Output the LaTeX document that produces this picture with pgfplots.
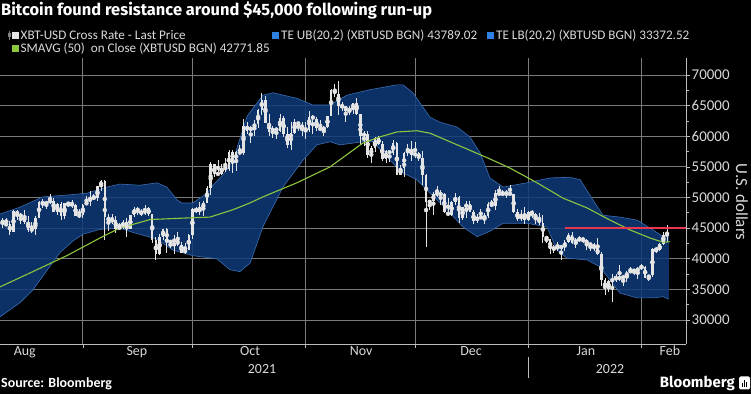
\documentclass[border=0pt]{standalone}
\usepackage{fontspec}
\setmainfont{Carlito}
\newfontfamily\titlefont{Fira Sans}
\usepackage{pgfplots}
\usepackage{pgfplotstable}
\pgfplotsset{compat=1.18}

\definecolor{bandfill}{HTML}{0F3A78}
\definecolor{bandedge}{HTML}{3A6DB3}
\definecolor{smagreen}{HTML}{8CC63F}
\definecolor{redline}{HTML}{E8374E}
\definecolor{candle}{HTML}{E4E4E4}
\definecolor{gridc}{HTML}{7A7A7A}
\definecolor{axisc}{HTML}{BDBDBD}
\definecolor{txt}{HTML}{DADADA}
\definecolor{legblue}{HTML}{2F80E0}

% daily candles, thousands of USD; d = days since 1 Aug 2021
\pgfplotstableread{
d o h l c
8 43.8 46.5 42.9 46.4
9 46.3 46.7 45.0 45.6
10 45.6 46.7 45.5 45.6
11 45.6 46.2 43.8 44.4
12 44.4 47.9 44.3 47.8
13 47.8 48.0 46.3 47.1
14 47.1 47.4 45.6 47.0
15 47.0 48.0 45.6 46.0
16 46.0 47.0 44.4 44.7
17 44.7 46.0 44.2 44.8
18 44.8 47.0 43.9 46.7
19 46.7 49.4 46.6 49.3
20 49.3 49.7 48.3 48.9
21 48.9 49.5 48.1 49.3
22 49.3 50.5 49.0 49.5
23 49.5 49.9 47.6 47.7
24 47.7 49.1 47.2 48.9
25 48.9 49.3 46.4 47.0
26 47.0 49.1 46.5 49.1
27 49.1 49.3 48.4 48.9
28 48.9 49.6 48.3 48.8
29 48.8 48.9 46.9 46.9
30 46.9 48.2 46.7 47.2
31 47.2 49.0 46.6 48.8
32 48.8 50.3 48.7 49.3
33 49.3 51.0 48.6 50.0
34 50.0 50.5 49.6 49.9
35 49.9 51.9 49.5 51.8
36 51.8 52.9 51.1 52.7
37 52.7 52.9 43.0 46.8
38 46.8 47.3 44.5 46.1
39 46.1 47.3 45.6 46.4
40 46.4 47.0 44.2 44.9
41 44.9 45.9 44.8 45.2
42 45.2 46.4 44.8 46.0
43 46.0 46.6 43.6 44.9
44 44.9 47.2 44.8 47.1
45 47.1 48.4 46.8 48.2
46 48.2 48.5 47.1 47.8
47 47.8 48.1 46.9 47.3
48 47.3 48.8 47.1 48.3
49 48.3 48.4 47.0 47.3
50 47.3 47.3 42.6 43.0
51 43.0 43.6 39.8 40.7
52 40.7 44.0 40.6 43.6
53 43.6 44.9 43.1 44.9
54 44.9 45.0 40.9 42.8
55 42.8 42.9 41.7 42.7
56 42.7 43.9 40.8 43.2
57 43.2 44.4 42.1 42.2
58 42.2 42.8 40.9 41.0
59 41.0 42.6 40.8 41.5
60 41.5 44.1 41.4 43.8
61 43.8 48.3 43.3 48.1
62 48.1 48.4 47.5 47.7
63 47.7 49.2 47.1 48.2
64 48.2 49.5 46.9 49.1
65 49.1 51.9 49.1 51.5
66 51.5 55.8 50.4 55.4
67 55.4 55.4 53.4 53.8
68 53.8 56.1 53.6 53.9
69 53.9 55.4 53.7 54.9
70 54.9 56.5 54.1 54.7
71 54.7 57.8 54.4 57.5
72 57.5 57.7 54.0 56.0
73 56.0 57.6 54.3 57.4
74 57.4 58.5 56.9 57.3
75 57.3 62.8 56.9 61.7
76 61.7 62.3 60.4 60.9
77 60.9 61.7 58.9 61.5
78 61.5 62.6 60.0 62.0
79 62.0 64.4 61.4 64.3
80 64.3 67.0 63.5 66.0
81 66.0 66.6 62.1 62.2
82 62.2 63.7 60.0 60.7
83 60.7 61.7 59.7 61.3
84 61.3 61.5 59.6 60.9
85 60.9 63.7 60.7 63.0
86 63.0 63.3 59.9 60.4
87 60.4 61.5 58.1 58.5
88 58.5 62.4 57.8 60.6
89 60.6 62.9 60.3 62.3
90 62.3 62.3 60.8 61.9
91 61.9 62.4 60.0 61.3
92 61.3 62.4 59.5 61.0
93 61.0 64.2 60.7 63.2
94 63.2 63.5 60.4 62.9
95 62.9 63.1 60.8 61.4
96 61.4 62.6 60.8 61.0
97 61.0 61.6 60.1 61.5
98 61.5 63.3 61.4 63.3
99 63.3 67.8 63.3 67.6
100 67.6 68.5 66.4 66.9
101 66.9 69.0 63.4 64.9
102 64.9 65.6 64.2 64.9
103 64.9 65.0 62.4 64.2
104 64.2 64.9 63.4 64.4
105 64.4 65.5 63.7 65.5
106 65.5 66.3 63.4 63.6
107 63.6 63.6 58.6 60.1
108 60.1 60.8 58.4 60.4
109 60.4 60.9 56.5 56.9
110 56.9 58.4 55.6 58.1
111 58.1 59.8 57.5 59.7
112 59.7 60.0 58.5 58.7
113 58.7 59.3 56.0 56.3
114 56.3 57.8 55.6 57.6
115 57.6 57.6 55.8 57.2
116 57.2 59.4 57.0 58.9
117 58.9 59.1 53.6 53.6
118 53.6 55.3 53.6 54.8
119 54.8 57.4 53.3 57.3
120 57.3 58.8 56.7 57.8
121 57.8 59.2 56.0 56.9
122 56.9 59.0 56.5 57.2
123 57.2 57.4 55.9 56.5
124 56.5 57.6 52.0 53.6
125 53.6 53.9 42.0 49.2
126 49.2 49.6 47.9 49.4
127 49.4 50.9 47.1 50.6
128 50.6 51.9 50.1 50.6
129 50.6 51.2 48.7 50.5
130 50.5 50.8 47.4 47.6
131 47.6 50.0 47.0 47.1
132 47.1 49.5 46.9 49.3
133 49.3 50.7 48.7 50.1
134 50.1 50.2 45.9 46.7
135 46.7 48.5 46.3 48.4
136 48.4 49.4 46.6 48.9
137 48.9 49.4 47.6 47.6
138 47.6 47.9 45.6 46.2
139 46.2 47.3 45.8 46.8
140 46.8 48.2 46.5 46.7
141 46.7 47.5 45.6 46.9
142 46.9 49.3 46.6 49.0
143 49.0 49.6 48.5 48.6
144 48.6 51.3 48.0 50.8
145 50.8 51.8 50.4 50.4
146 50.4 51.2 50.2 50.8
147 50.8 51.3 49.9 50.6
148 50.6 52.0 50.5 50.6
149 50.6 50.6 47.4 47.6
150 47.6 48.1 46.1 46.5
151 46.5 47.9 46.1 47.1
152 47.1 48.5 45.7 46.3
153 46.3 47.8 46.2 47.7
154 47.7 47.9 46.7 47.3
155 47.3 47.5 45.7 46.5
156 46.5 47.5 45.5 45.9
157 45.9 47.1 42.6 43.6
158 43.6 43.7 42.5 43.2
159 43.2 43.2 40.7 41.6
160 41.6 42.3 41.0 41.8
161 41.8 42.8 41.3 41.9
162 41.9 42.2 39.8 41.9
163 41.9 43.0 41.3 42.7
164 42.7 44.2 42.5 43.9
165 43.9 44.3 42.4 42.6
166 42.6 43.4 41.8 43.1
167 43.1 43.7 42.7 43.2
168 43.2 43.5 42.6 43.1
169 43.1 43.2 41.5 42.3
170 42.3 42.6 41.3 42.4
171 42.4 42.5 41.3 41.7
172 41.7 43.4 40.6 40.7
173 40.7 41.1 35.6 36.5
174 36.5 36.8 34.0 35.1
175 35.1 36.5 34.6 36.3
176 36.3 37.5 33.0 36.7
177 36.7 37.5 36.2 36.9
178 36.9 38.9 36.4 36.8
179 36.8 37.2 35.6 37.2
180 37.2 38.0 36.2 37.7
181 37.7 38.7 37.6 38.2
182 38.2 38.3 37.4 37.9
183 37.9 38.7 36.7 38.5
184 38.5 39.2 38.1 38.7
185 38.7 38.8 36.8 36.9
186 36.9 37.4 36.3 37.3
187 37.3 41.7 37.1 41.6
188 41.6 41.9 40.9 41.4
189 41.4 42.5 41.2 42.4
190 42.4 44.4 42.3 43.8
191 43.8 45.5 42.7 44.1
}\candles

% upper band
\pgfplotstableread{
d v
8.3 47.3
13.7 48.4
20.0 50.1
26.6 50.4
32.1 50.7
37.6 51.7
41.1 52.2
46.6 52.0
51.3 52.4
54.0 51.7
56.8 49.6
58.1 49.1
61.1 49.1
65.0 50.7
66.6 52.0
69.5 53.8
72.1 56.0
76.0 63.3
80.3 66.7
83.1 67.1
89.6 66.2
94.0 65.1
98.7 65.1
103.3 66.7
109.6 67.6
117.0 68.4
118.7 68.4
121.4 67.1
126.1 63.1
128.8 62.3
133.5 61.5
137.0 59.9
139.8 57.3
142.5 53.2
146.1 51.7
152.6 52.4
159.0 53.2
164.4 53.3
167.2 52.9
170.7 49.6
173.5 47.1
178.1 46.8
182.8 46.3
187.2 44.7
189.9 43.6
191.5 43.8
}\ub

% lower band
\pgfplotstableread{
d v
8.3 30.5
13.7 32.8
17.3 34.9
22.0 38.8
24.7 41.0
28.3 42.9
31.0 44.0
35.7 44.8
41.1 45.0
44.7 44.3
51.3 43.2
55.7 41.4
61.1 40.5
67.7 40.0
71.3 38.2
74.0 37.9
76.8 39.3
80.3 45.2
85.8 51.7
91.3 56.1
95.1 58.6
98.7 59.1
101.4 58.6
107.7 59.1
110.5 59.1
115.1 56.1
118.7 54.0
122.5 52.9
126.1 50.7
130.7 48.0
135.1 45.2
139.0 43.6
142.5 44.5
146.1 45.8
152.6 45.8
158.1 45.2
160.9 41.4
163.6 40.1
169.1 39.8
172.6 38.7
175.4 36.5
178.1 34.4
182.8 33.6
187.2 33.6
189.9 33.8
191.5 33.4
}\lb

% band outline: upper band forward, lower band backward
\pgfplotstableread{
d v
8.3 47.3
13.7 48.4
20.0 50.1
26.6 50.4
32.1 50.7
37.6 51.7
41.1 52.2
46.6 52.0
51.3 52.4
54.0 51.7
56.8 49.6
58.1 49.1
61.1 49.1
65.0 50.7
66.6 52.0
69.5 53.8
72.1 56.0
76.0 63.3
80.3 66.7
83.1 67.1
89.6 66.2
94.0 65.1
98.7 65.1
103.3 66.7
109.6 67.6
117.0 68.4
118.7 68.4
121.4 67.1
126.1 63.1
128.8 62.3
133.5 61.5
137.0 59.9
139.8 57.3
142.5 53.2
146.1 51.7
152.6 52.4
159.0 53.2
164.4 53.3
167.2 52.9
170.7 49.6
173.5 47.1
178.1 46.8
182.8 46.3
187.2 44.7
189.9 43.6
191.5 43.8
191.5 33.4
189.9 33.8
187.2 33.6
182.8 33.6
178.1 34.4
175.4 36.5
172.6 38.7
169.1 39.8
163.6 40.1
160.9 41.4
158.1 45.2
152.6 45.8
146.1 45.8
142.5 44.5
139.0 43.6
135.1 45.2
130.7 48.0
126.1 50.7
122.5 52.9
118.7 54.0
115.1 56.1
110.5 59.1
107.7 59.1
101.4 58.6
98.7 59.1
95.1 58.6
91.3 56.1
85.8 51.7
80.3 45.2
76.8 39.3
74.0 37.9
71.3 38.2
67.7 40.0
61.1 40.5
55.7 41.4
51.3 43.2
44.7 44.3
41.1 45.0
35.7 44.8
31.0 44.0
28.3 42.9
24.7 41.0
22.0 38.8
17.3 34.9
13.7 32.8
8.3 30.5
}\band

\pgfplotstableread{
d v
8.3 35.4
17.3 37.9
26.6 40.5
35.7 43.4
41.1 45.0
49.4 46.4
61.1 46.7
65.8 46.8
72.1 48.0
76.7 49.1
80.3 50.1
89.6 52.4
98.7 55.0
107.7 58.9
112.4 59.9
117.0 60.7
122.5 60.9
126.1 60.5
135.1 58.2
142.5 56.3
148.0 54.8
155.4 52.4
162.5 49.9
169.1 48.3
175.4 46.3
180.9 44.7
186.3 43.4
189.9 42.7
191.8 42.77
}\sma

\pgfplotsset{gridline/.style={color=gridc, solid, line width=0.9bp, forget plot}}

\begin{document}
\begin{tikzpicture}[x=1bp,y=1bp]
\fill[black] (0bp,0bp) rectangle (751bp,394bp);

\begin{axis}[
  at={(0bp,50bp)}, anchor=south west,
  scale only axis, width=686bp, height=286bp,
  xmin=8.3, xmax=196.2, ymin=26.08, ymax=72.78,
  axis x line*=bottom, axis y line*=right,
  axis line style={axisc, line width=0.8bp, -},
  xtick={31,61,92,122,153,184}, xticklabels={},
  extra x ticks={15.1,45.8,76.8,107.2,137.3,168.8,191.8},
  extra x tick labels={Aug,Sep,Oct,Nov,Dec,Jan,Feb},
  extra x tick style={major tick length=0pt},
  ytick={30,35,40,45,50,55,60,65,70},
  yticklabels={30000,35000,40000,45000,50000,55000,60000,65000,70000},
  minor y tick num=1,
  tick align=outside, major tick length=4bp, minor tick length=2.5bp,
  tick style={axisc, line width=0.7bp},
  yticklabel style={txt, font=\fontsize{15}{15}\selectfont, anchor=west, inner sep=1.5bp},
  xticklabel style={txt, font=\fontsize{14}{14}\selectfont, inner sep=2bp},
]
% grid lines (horizontal every 5000, vertical at month starts)
\addplot[gridline] coordinates {(8.3,30) (196.2,30)};
\addplot[gridline] coordinates {(8.3,35) (196.2,35)};
\addplot[gridline] coordinates {(8.3,40) (196.2,40)};
\addplot[gridline] coordinates {(8.3,45) (196.2,45)};
\addplot[gridline] coordinates {(8.3,50) (196.2,50)};
\addplot[gridline] coordinates {(8.3,55) (196.2,55)};
\addplot[gridline] coordinates {(8.3,60) (196.2,60)};
\addplot[gridline] coordinates {(8.3,65) (196.2,65)};
\addplot[gridline] coordinates {(8.3,70) (196.2,70)};
\addplot[gridline] coordinates {(31,26.08) (31,72.78)};
\addplot[gridline] coordinates {(61,26.08) (61,72.78)};
\addplot[gridline] coordinates {(92,26.08) (92,72.78)};
\addplot[gridline] coordinates {(122,26.08) (122,72.78)};
\addplot[gridline] coordinates {(153,26.08) (153,72.78)};
\addplot[gridline] coordinates {(184,26.08) (184,72.78)};

\addplot[fill=bandfill, fill opacity=0.86, draw=none] table[x=d, y=v] {\band};
\addplot[bandedge, line width=0.6bp] table[x=d, y=v] {\ub};
\addplot[bandedge, line width=0.6bp] table[x=d, y=v] {\lb};

% wicks
\addplot[only marks, mark=none, candle,
  error bars/.cd, y dir=both, y explicit, error mark=none,
  error bar style={line width=0.8bp, candle}]
  table[x=d, y expr={(\thisrow{h}+\thisrow{l})/2}, y error expr={(\thisrow{h}-\thisrow{l})/2}] {\candles};
% bodies
\addplot[only marks, mark=none, candle,
  error bars/.cd, y dir=both, y explicit, error mark=none,
  error bar style={line width=2.5bp, candle}]
  table[x=d, y expr={(\thisrow{o}+\thisrow{c})/2}, y error expr={max(abs(\thisrow{o}-\thisrow{c})/2,0.12)}] {\candles};

\addplot[color=smagreen, line width=1.1bp] table[x=d, y=v] {\sma};
\addplot[color=redline, line width=1.6bp] coordinates {(163,45) (196.2,45)};
\end{axis}

% y label
\node[rotate=-90, txt, font=\fontsize{17}{17}\selectfont, inner sep=0] at (742bp,192bp) {U.S. dollars};

% year labels
\node[txt, font=\fontsize{14}{14}\selectfont, inner sep=0] at (262bp,25bp) {2021};
\node[txt, font=\fontsize{14}{14}\selectfont, inner sep=0] at (610bp,25bp) {2022};
\draw[axisc, line width=0.6bp] (528bp,16bp) -- (528bp,37bp);

% title
\node[anchor=west, white, inner sep=0] at (1bp,383bp) {\titlefont\bfseries\fontsize{16.5}{16.5}\selectfont Bitcoin found resistance around \$45,000 following run-up};

% legend
\draw[gray, line width=0.6bp] (9.5bp,354bp) -- (9.5bp,363bp);
\fill[gray] (8.4bp,356.5bp) rectangle (10.6bp,361bp);
\fill[candle] (12bp,355bp) rectangle (19bp,362bp);
\node[anchor=west, txt, font=\fontsize{13.2}{13.2}\selectfont, inner sep=0] at (20.5bp,358.5bp) {XBT-USD Cross Rate - Last Price};
\fill[legblue] (272bp,355bp) rectangle (279bp,362bp);
\node[anchor=west, txt, font=\fontsize{13.2}{13.2}\selectfont, inner sep=0] at (281bp,358.5bp) {TE UB(20,2) (XBTUSD BGN) 43789.02};
\fill[legblue] (487bp,355bp) rectangle (494bp,362bp);
\node[anchor=west, txt, font=\fontsize{13.2}{13.2}\selectfont, inner sep=0] at (496bp,358.5bp) {TE LB(20,2) (XBTUSD BGN) 33372.52};
\fill[smagreen] (12bp,342bp) rectangle (19bp,349bp);
\node[anchor=west, txt, font=\fontsize{13.2}{13.2}\selectfont, inner sep=0] at (20.5bp,345.5bp) {SMAVG (50)\ \ on Close (XBTUSD BGN) 42771.85};

% footer
\node[anchor=west, white, inner sep=0] at (1bp,10bp) {\bfseries\fontsize{14}{14}\selectfont Source: Bloomberg};
\node[anchor=east, white, inner sep=0] at (735bp,11bp) {\titlefont\bfseries\fontsize{15}{15}\selectfont Bloomberg};
\fill[white, rounded corners=1.5bp] (739bp,4.5bp) rectangle (750bp,17.5bp);
\fill[black] (741.5bp,7bp) rectangle (742.7bp,11bp);
\fill[black] (743.7bp,7bp) rectangle (744.9bp,14bp);
\fill[black] (745.9bp,7bp) rectangle (747.1bp,12bp);

\pgfresetboundingbox
\path[use as bounding box] (0bp,0bp) rectangle (751bp,394bp);
\end{tikzpicture}
\end{document}
